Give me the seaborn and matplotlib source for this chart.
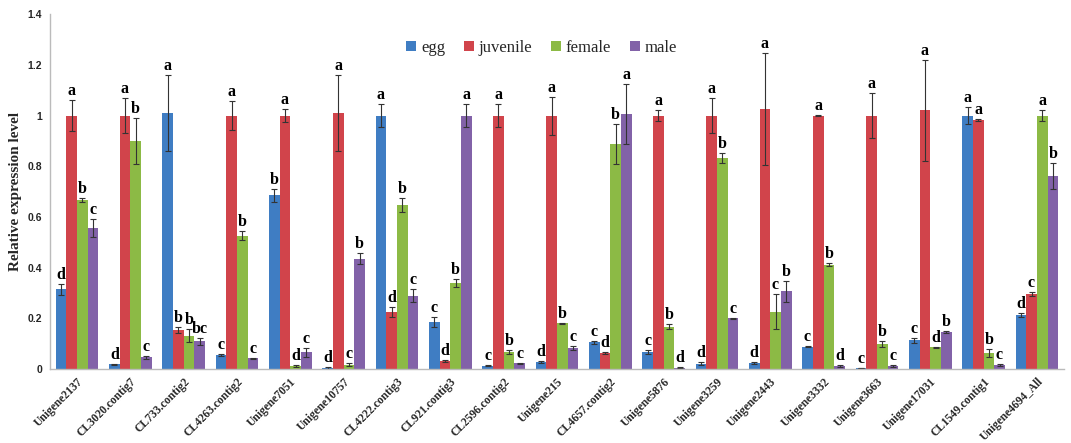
import pandas as pd
import numpy as np
import matplotlib
matplotlib.use("Agg")
import matplotlib.pyplot as plt
from matplotlib.ticker import FuncFormatter, FixedLocator
import seaborn as sns

# datos
genes = ["Unigene2137", "CL3020.contig7", "CL733.contig2", "CL4263.contig2", "Unigene7051",
         "Unigene10757", "CL4222.contig3", "CL921.contig3", "CL2596.contig2", "Unigene215",
         "CL4657.contig2", "Unigene5876", "Unigene3259", "Unigene2443", "Unigene3332",
         "Unigene3663", "Unigene17031", "CL1549.contig1", "Unigene4694_All"]
stages = ["egg", "juvenile", "female", "male"]

egg = [0.315, 0.018, 1.01, 0.054, 0.685, 0.004, 1.0, 0.184, 0.013, 0.028,
       0.105, 0.067, 0.021, 0.024, 0.088, 0.004, 0.113, 1.0, 0.214]
juvenile = [1.0, 1.0, 0.155, 1.0, 1.0, 1.01, 0.225, 0.033, 1.0, 1.0,
            0.063, 1.0, 1.0, 1.026, 1.0, 1.0, 1.02, 0.983, 0.296]
female = [0.667, 0.90, 0.131, 0.526, 0.011, 0.017, 0.648, 0.34, 0.068, 0.18,
          0.888, 0.167, 0.833, 0.226, 0.411, 0.099, 0.085, 0.063, 1.0]
male = [0.555, 0.046, 0.109, 0.042, 0.066, 0.436, 0.29, 1.0, 0.022, 0.084,
        1.006, 0.005, 0.2, 0.306, 0.011, 0.012, 0.146, 0.016, 0.762]

egg_err = [0.022, 0.003, 0.15, 0.004, 0.025, 0.002, 0.045, 0.02, 0.002, 0.003,
           0.007, 0.008, 0.005, 0.003, 0.003, 0.001, 0.01, 0.035, 0.008]
juvenile_err = [0.06, 0.07, 0.012, 0.057, 0.025, 0.15, 0.02, 0.004, 0.045, 0.075,
                0.003, 0.02, 0.068, 0.22, 0.003, 0.09, 0.2, 0.003, 0.006]
female_err = [0.008, 0.09, 0.025, 0.018, 0.003, 0.005, 0.028, 0.015, 0.008, 0.003,
              0.08, 0.01, 0.02, 0.07, 0.006, 0.012, 0.003, 0.015, 0.02]
male_err = [0.035, 0.006, 0.013, 0.002, 0.018, 0.02, 0.025, 0.045, 0.003, 0.007,
            0.12, 0.002, 0.003, 0.04, 0.003, 0.003, 0.003, 0.003, 0.05]

egg_let = ["d", "d", "a", "c", "b", "d", "a", "c", "c", "d", "c", "c", "d", "d", "c", "c", "c", "a", "d"]
juvenile_let = ["a", "a", "b", "a", "a", "a", "d", "d", "a", "a", "d", "a", "a", "a", "a", "a", "a", "a", "c"]
female_let = ["b", "b", "b", "b", "d", "c", "b", "b", "b", "b", "b", "b", "b", "c", "b", "b", "d", "b", "a"]
male_let = ["c", "c", "bc", "c", "c", "b", "c", "a", "c", "c", "a", "d", "c", "b", "d", "c", "b", "c", "b"]

colores = ["#3F7DC3", "#D1444B", "#8CBA45", "#8262A8"]

vals = [egg, juvenile, female, male]
errs = [egg_err, juvenile_err, female_err, male_err]
lets = [egg_let, juvenile_let, female_let, male_let]

df = pd.DataFrame({
    "gene": genes * 4,
    "stage": np.repeat(stages, len(genes)),
    "value": np.concatenate(vals),
})

sns.set_style("white")
plt.rcParams["font.family"] = ["Liberation Serif", "DejaVu Serif"]

fig = plt.figure(figsize=(10.71, 4.43), dpi=100)
ax = fig.add_axes([0.047, 0.167, 0.946, 0.801])

sns.barplot(data=df, x="gene", y="value", hue="stage", order=genes, hue_order=stages,
            palette=colores, width=0.8, errorbar=None, saturation=1, ax=ax, linewidth=0)

n = len(genes)
for i, s in enumerate(stages):
    cont = ax.containers[i]
    xs = [p.get_x() + p.get_width() / 2 for p in cont.patches]
    ax.errorbar(xs, vals[i], yerr=errs[i], fmt="none", ecolor="#333333",
                elinewidth=0.8, capsize=2, capthick=0.8)
    for j in range(n):
        ax.text(xs[j], vals[i][j] + errs[i][j] + 0.004, lets[i][j], ha="center", va="bottom",
                fontsize=11.5, fontweight="bold", color="black")

ax.set_ylim(0, 1.4)
ax.set_xlim(-0.5, n - 0.5)
ax.set_yticks(np.arange(0, 1.41, 0.2))
ax.yaxis.set_major_formatter(FuncFormatter(lambda v, p: "%g" % round(v, 1)))
for t in ax.get_yticklabels():
    t.set_fontfamily("Liberation Sans")
    t.set_fontweight("bold")
    t.set_fontsize(7.5)

ax.set_xticks(range(n))
ax.set_xticklabels(genes, rotation=45, ha="right", rotation_mode="anchor",
                   fontsize=8.3, fontweight="bold")
ax.xaxis.set_minor_locator(FixedLocator(np.arange(-0.5, n, 1)))
ax.tick_params(axis="x", which="major", length=0, pad=5)
ax.tick_params(axis="x", which="minor", length=4, color="#BBBBBB", direction="out")
ax.tick_params(axis="y", length=4, color="#BBBBBB", direction="out", pad=2)

ax.set_xlabel("")
ax.set_ylabel("Relative expression level", fontsize=11, fontweight="bold", labelpad=4)

for side in ["top", "right"]:
    ax.spines[side].set_visible(False)
for side in ["left", "bottom"]:
    ax.spines[side].set_color("#BBBBBB")
    ax.spines[side].set_linewidth(1)

ax.legend(loc="upper center", bbox_to_anchor=(0.485, 0.97), ncol=4, frameon=False,
          prop={"family": "Liberation Serif", "size": 12}, handlelength=0.6,
          handleheight=0.6, handletextpad=0.3, columnspacing=1.1, title=None)

fig.savefig("out.png", dpi=100)
